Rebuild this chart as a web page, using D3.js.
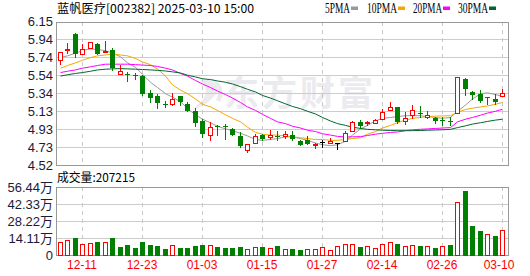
<!DOCTYPE html>
<html><head><meta charset="utf-8">
<script src="https://cdn.jsdelivr.net/npm/d3@7/dist/d3.min.js"></script>
<style>
html,body{margin:0;padding:0;background:#fff;}
svg{display:block;}
text{font-family:"Liberation Sans",Arial,sans-serif;}
</style></head>
<body><svg id="c" width="530" height="276"></svg>
<script>
const dates = ["12-06","12-09","12-10","12-11","12-12","12-13","12-16","12-17","12-18","12-19","12-20","12-23","12-24","12-25","12-26","12-27","12-30","12-31","01-02","01-03","01-06","01-07","01-08","01-09","01-10","01-13","01-14","01-15","01-16","01-17","01-20","01-21","01-22","01-23","01-24","01-27","02-05","02-06","02-07","02-10","02-11","02-12","02-13","02-14","02-17","02-18","02-19","02-20","02-21","02-24","02-25","02-26","02-27","02-28","03-03","03-04","03-05","03-06","03-07","03-10"];
const open  = [5.71,5.824,6.003,5.786,5.851,5.893,5.81,5.824,5.559,5.555,5.544,5.532,5.335,5.305,5.21,5.21,5.305,5.214,5.138,5.024,4.865,4.964,4.964,4.926,4.85,4.694,4.774,4.857,4.839,4.85,4.846,4.865,4.789,4.80,4.744,4.78,4.767,4.77,4.797,4.903,5.009,4.998,5.002,5.047,5.149,5.18,5.021,5.093,5.111,5.07,5.055,5.032,5.024,5.115,5.494,5.35,5.328,5.29,5.271,5.301];
const high  = [5.802,5.904,6.021,5.893,5.915,5.904,5.93,5.851,5.654,5.578,5.570,5.54,5.369,5.328,5.248,5.339,5.305,5.237,5.168,5.04,5.009,4.971,4.983,4.941,4.895,4.755,4.869,4.869,4.922,4.907,4.907,4.907,4.80,4.85,4.767,4.80,4.827,4.775,4.903,5.024,5.036,5.02,5.043,5.153,5.237,5.18,5.123,5.199,5.191,5.131,5.066,5.066,5.066,5.521,5.51,5.362,5.369,5.29,5.328,5.388];
const low   = [5.654,5.779,5.752,5.783,5.836,5.779,5.794,5.597,5.559,5.472,5.502,5.32,5.237,5.172,5.184,5.187,5.199,5.13,4.96,4.835,4.797,4.857,4.82,4.857,4.725,4.657,4.763,4.804,4.804,4.80,4.812,4.808,4.744,4.755,4.706,4.72,4.759,4.706,4.782,4.895,4.941,4.96,4.994,5.04,5.146,4.998,4.971,5.047,5.066,5.04,5.002,4.971,4.979,5.115,5.312,5.267,5.237,5.218,5.214,5.301];
const close = [5.802,5.839,5.779,5.836,5.915,5.779,5.815,5.623,5.585,5.548,5.536,5.328,5.282,5.229,5.203,5.275,5.237,5.138,5.002,4.873,4.956,4.956,4.956,4.865,4.736,4.755,4.854,4.812,4.857,4.838,4.869,4.82,4.744,4.763,4.759,4.78,4.797,4.77,4.884,5.009,4.964,5.013,5.036,5.123,5.176,5.013,5.051,5.142,5.096,5.085,5.024,5.024,5.017,5.521,5.388,5.32,5.252,5.282,5.237,5.335];
const volume = [108000,122000,144000,94000,100000,108000,108000,144000,69000,83000,58000,108000,83000,75000,50000,83000,58000,58000,75000,83000,83000,66000,58000,58000,66000,50000,66000,66000,55000,75000,47000,47000,39000,47000,47000,64000,39000,72000,89000,89000,66000,72000,55000,89000,105000,89000,75000,80000,75000,75000,58000,75000,83000,437000,531000,241000,199000,172000,158000,207215];
const volUp = [1,1,0,1,1,0,1,0,0,0, 0,0,0,0,0,1,0,0,0,0, 1,0,0,0,0,1,1,0,1,0, 1,0,0,1,1,1,1,1,1,1, 0,1,1,1,1,0,1,1,0,1, 0,1,0,1,0,0,0,1,0,1];
const ma5  = [5.74,5.76,5.79,5.82,5.84,5.83,5.82,5.79,5.75,5.68,5.63,5.55,5.46,5.40,5.33,5.29,5.24,5.16,5.09,5.04,5.00,4.96,4.93,4.91,4.88,4.85,4.81,4.80,4.81,4.82,4.84,4.84,4.82,4.80,4.77,4.75,4.74,4.75,4.79,4.86,4.93,4.97,5.02,5.05,5.06,5.07,5.08,5.08,5.08,5.07,5.06,5.05,5.06,5.13,5.20,5.27,5.33,5.34,5.32,5.30];
const ma10 = [5.62,5.65,5.68,5.71,5.74,5.76,5.77,5.78,5.77,5.76,5.73,5.69,5.66,5.61,5.53,5.43,5.37,5.33,5.27,5.21,5.18,5.14,5.09,5.05,5.01,4.95,4.89,4.87,4.86,4.86,4.85,4.84,4.83,4.82,4.81,4.81,4.80,4.80,4.81,4.82,4.83,4.87,4.90,4.94,4.97,5.00,5.03,5.05,5.06,5.07,5.075,5.077,5.08,5.12,5.15,5.165,5.18,5.19,5.21,5.23];
const ma20 = [5.57,5.585,5.60,5.62,5.635,5.65,5.665,5.665,5.665,5.665,5.66,5.655,5.65,5.64,5.62,5.60,5.56,5.53,5.48,5.44,5.40,5.36,5.32,5.28,5.23,5.18,5.14,5.095,5.05,5.01,4.99,4.96,4.94,4.915,4.90,4.875,4.86,4.845,4.838,4.84,4.842,4.855,4.87,4.88,4.89,4.895,4.91,4.92,4.926,4.93,4.935,4.94,4.945,5.01,5.04,5.06,5.085,5.11,5.13,5.153];
const ma30 = [5.53,5.545,5.56,5.57,5.585,5.60,5.608,5.612,5.615,5.612,5.608,5.605,5.60,5.595,5.588,5.578,5.565,5.54,5.52,5.50,5.49,5.475,5.46,5.44,5.41,5.38,5.35,5.31,5.28,5.25,5.215,5.185,5.16,5.13,5.10,5.06,5.02,4.99,4.97,4.95,4.935,4.925,4.92,4.915,4.912,4.91,4.91,4.91,4.912,4.915,4.918,4.92,4.925,4.945,4.965,4.985,5.00,5.015,5.03,5.04];
const priceTickLabels = ["4.52","4.73","4.93","5.13","5.34","5.54","5.74","5.94","6.15"];
const volTickLabels = ["0","14.11万","28.22万","42.33万","56.44万"];
const dateTickLabels = ["12-11","12-23","01-03","01-15","01-27","02-14","02-26","03-10"];
const maNames = ["5PMA","10PMA","20PMA","30PMA"];
const maColors = ["#999999","#f5a800","#ff00ff","#00682f"];
const title = "蓝帆医疗[002382] 2025-03-10 15:00";
const volTitle = "成交量:207215";
const priceMin = 4.52, priceMax = 6.15, volMax = 564400;

const svg = d3.select("#c");
const L = 56, R = 509, PT = 21.5, PB = 165, VT = 187, VB = 255;
const RED = "#ff0000", GREEN = "#008000";

const x = d3.scaleBand().domain(dates).range([55.75, 505.75]).paddingInner(0).paddingOuter(0);
const xc = d => Math.round(x(d) + x.bandwidth()/2);
const y = d3.scaleLinear().domain([priceMin, priceMax]).range([PB, PT]);
const yv = d3.scaleLinear().domain([0, volMax]).range([VB, VT]);

// watermark
const wm = svg.append("g").attr("fill","#ebebef");
wm.append("text").attr("x",224).attr("y",106).attr("font-size",35).attr("font-weight","bold")
  .attr("letter-spacing",3).style("font-family","'Noto Sans CJK SC'").text("东方财富");
wm.append("path").attr("d","M200,80 C214,78 222,86 214,96 C208,104 198,108 192,110 C204,100 212,92 200,80 Z");
wm.append("path").attr("d","M210,78 C222,82 226,92 220,102 L216,100 C220,92 218,84 210,78 Z");

// grids
const priceTickVals = d3.range(9).map(k => priceMin + k*(priceMax-priceMin)/8);
const volTickVals = d3.range(5).map(k => k*volMax/4);
const grid = svg.append("g").attr("shape-rendering","crispEdges");
grid.selectAll(".hp").data(priceTickVals).join("line")
  .attr("x1",L).attr("x2",R).attr("y1",d=>Math.round(y(d))+0.5).attr("y2",d=>Math.round(y(d))+0.5)
  .attr("stroke","#cccccc");
grid.selectAll(".hv").data(volTickVals).join("line")
  .attr("x1",L).attr("x2",R).attr("y1",d=>Math.round(yv(d))+0.5).attr("y2",d=>Math.round(yv(d))+0.5)
  .attr("stroke","#cccccc");
const tickDates = dates.filter(d => dateTickLabels.includes(d));
[[PT,PB],[VT,VB]].forEach(([a,b]) => {
  grid.append("g").selectAll("line").data(tickDates).join("line")
    .attr("x1",d=>xc(d)+0.5).attr("x2",d=>xc(d)+0.5).attr("y1",a).attr("y2",b)
    .attr("stroke","#c8c8c8").attr("stroke-dasharray","4,4");
});

// frames
svg.append("rect").attr("x",L+0.5).attr("y",Math.round(PT)+0.5).attr("width",R-L-1).attr("height",PB-Math.round(PT))
  .attr("fill","none").attr("stroke","#999").attr("shape-rendering","crispEdges");
svg.append("rect").attr("x",L+0.5).attr("y",VT+0.5).attr("width",R-L-1).attr("height",VB-VT)
  .attr("fill","none").attr("stroke","#999").attr("shape-rendering","crispEdges");

// MA lines
const maData = [ma5, ma10, ma20, ma30];
maData.forEach((arr,k) => {
  svg.append("path").datum(arr)
    .attr("fill","none").attr("stroke",maColors[k]).attr("stroke-width",1)
    .attr("d", d3.line().x((v,i)=>xc(dates[i])+0.5).y(v=>y(v)));
});

// candles
const cg = svg.append("g").attr("shape-rendering","crispEdges");
dates.forEach((d,i) => {
  const cx = xc(d) + 0.5;
  const o = open[i], c = close[i];
  const col = c > o ? RED : (c < o ? GREEN : "#000000");
  const yTop = Math.round(y(Math.max(o,c))), yBot = Math.round(y(Math.min(o,c)));
  const yH = Math.round(y(high[i])), yL = Math.round(y(low[i]));
  if (c > o) {
    if (yH < yTop) cg.append("line").attr("x1",cx).attr("x2",cx).attr("y1",yH).attr("y2",yTop).attr("stroke",col);
    if (yL > yBot) cg.append("line").attr("x1",cx).attr("x2",cx).attr("y1",yBot).attr("y2",yL).attr("stroke",col);
    cg.append("rect").attr("x",cx-2).attr("y",yTop+0.5).attr("width",4).attr("height",Math.max(1,yBot-yTop))
      .attr("fill","#fff").attr("stroke",col);
  } else {
    cg.append("line").attr("x1",cx).attr("x2",cx).attr("y1",yH).attr("y2",yL+1).attr("stroke",col);
    cg.append("rect").attr("x",cx-2.5).attr("y",yTop).attr("width",5).attr("height",Math.max(1,yBot-yTop))
      .attr("fill",col);
  }
});

// volume bars
const vg = svg.append("g").attr("shape-rendering","crispEdges");
dates.forEach((d,i) => {
  const cx = xc(d) + 0.5;
  const top = Math.round(yv(volume[i]));
  if (volUp[i]) {
    vg.append("rect").attr("x",cx-2).attr("y",top+0.5).attr("width",4).attr("height",VB-top-0.5)
      .attr("fill","#fff").attr("stroke",RED);
  } else {
    vg.append("rect").attr("x",cx-2.5).attr("y",top).attr("width",5).attr("height",VB-top+0.5).attr("fill",GREEN);
  }
});

// axes labels
const axP = d3.axisLeft(y).tickValues(priceTickVals).tickSize(0).tickPadding(3)
  .tickFormat((d,i)=>priceTickLabels[i]);
const gP = svg.append("g").attr("transform",`translate(${L},0)`).call(axP);
gP.select(".domain").remove();
gP.selectAll("text").attr("font-size",13).attr("fill","#1a1a3a").style("font-family","'Liberation Sans',Arial");

const axV = d3.axisLeft(yv).tickValues(volTickVals).tickSize(0).tickPadding(3)
  .tickFormat((d,i)=>volTickLabels[i]);
const gV = svg.append("g").attr("transform",`translate(${L},0)`).call(axV);
gV.select(".domain").remove();
gV.selectAll("text").attr("font-size",13).attr("fill","#1a1a3a").style("font-family","'Liberation Sans','Noto Sans CJK SC'");

const axX = d3.axisBottom(x).tickValues(tickDates).tickSize(0).tickPadding(5)
  .tickFormat((d,i)=>dateTickLabels[i]);
const gX = svg.append("g").attr("transform",`translate(0,${VB})`).call(axX);
gX.select(".domain").remove();
gX.selectAll("text").attr("font-size",12).attr("fill","#ff0000").style("font-family","'Liberation Sans',Arial");
gX.selectAll(".tick").filter(d=>d==="03-10").select("text").attr("dx",-3);

// title & legend
svg.append("text").attr("x",57).attr("y",13).attr("font-size",12).attr("fill","#000")
  .style("font-family","'Noto Sans CJK SC',sans-serif").attr("textLength",197).attr("lengthAdjust","spacingAndGlyphs").text(title);
svg.append("text").attr("x",57).attr("y",182).attr("font-size",12).attr("fill","#000")
  .style("font-family","'Noto Sans CJK SC',sans-serif").attr("textLength",78).attr("lengthAdjust","spacingAndGlyphs").text(volTitle);
const legX = [325,367,413,458], legW = [25,30,29,30];
maNames.forEach((n,k) => {
  svg.append("text").attr("x",legX[k]).attr("y",13).attr("font-size",14).attr("fill","#000")
    .style("font-family","'Liberation Serif',serif").attr("textLength",legW[k]).attr("lengthAdjust","spacingAndGlyphs").text(n);
  svg.append("rect").attr("x",legX[k]+legW[k]+1).attr("y",6.5).attr("width",7).attr("height",3.5).attr("fill",maColors[k]);
});
</script></body></html>
